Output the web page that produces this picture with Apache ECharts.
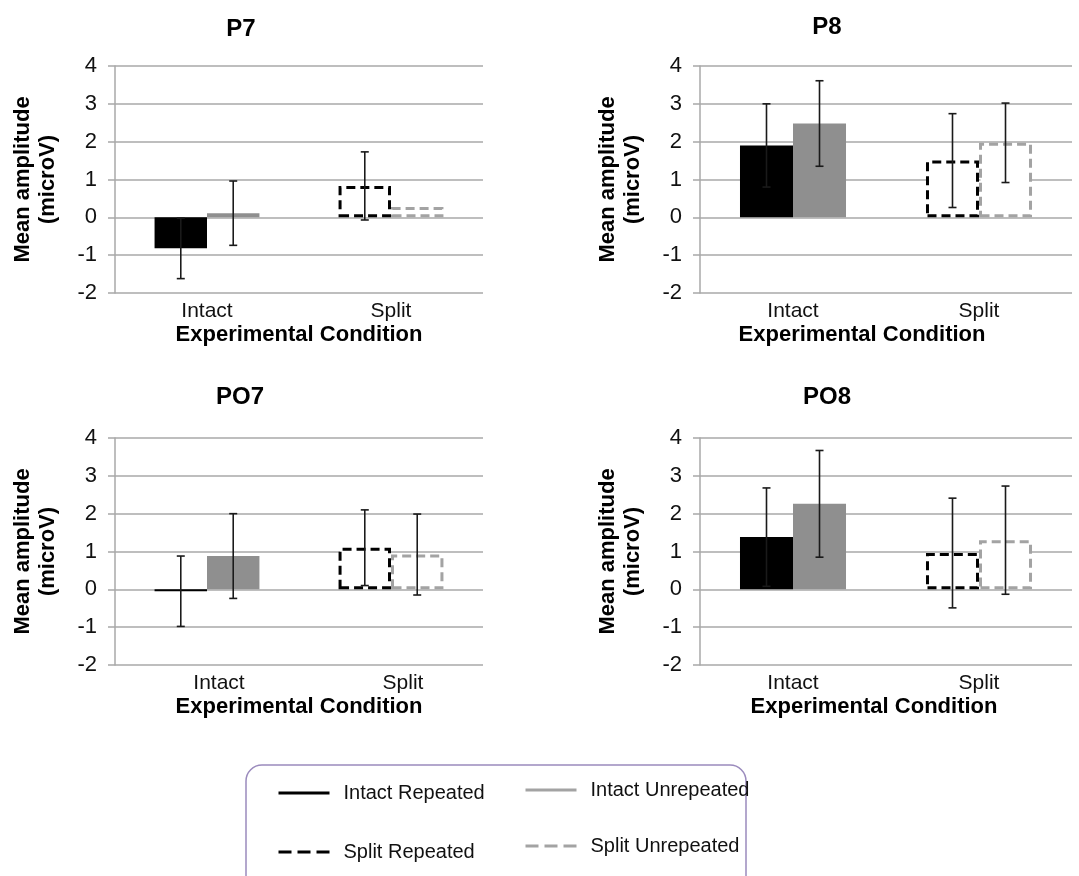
<!DOCTYPE html>
<html>
<head>
<meta charset="utf-8">
<script src="https://cdn.jsdelivr.net/npm/echarts@6/dist/echarts.min.js"></script>
<style>
  html, body { margin: 0; padding: 0; background: #fff; }
  #chart { width: 1079px; height: 876px; }
</style>
</head>
<body>
<div id="chart"></div>
<script>

// ---- data ----
var categories = ['Intact', 'Split'];
var panelNames = ['P7', 'P8', 'PO7', 'PO8'];
var yTicks = [-2, -1, 0, 1, 2, 3, 4];

var p7Repeated = [-0.82, 0.83];
var p7RepeatedErr = [0.8, 0.9];
var p7Unrepeated = [0.11, 0.27];
var p7UnrepeatedErr = [0.85, null];

var p8Repeated = [1.9, 1.5];
var p8RepeatedErr = [1.1, 1.24];
var p8Unrepeated = [2.48, 1.97];
var p8UnrepeatedErr = [1.13, 1.05];

var po7Repeated = [-0.05, 1.1];
var po7RepeatedErr = [0.93, 1.0];
var po7Unrepeated = [0.88, 0.92];
var po7UnrepeatedErr = [1.12, 1.07];

var po8Repeated = [1.38, 0.96];
var po8RepeatedErr = [1.3, 1.45];
var po8Unrepeated = [2.26, 1.3];
var po8UnrepeatedErr = [1.41, 1.43];

var legendNames = ['Intact Repeated', 'Intact Unrepeated', 'Split Repeated', 'Split Unrepeated'];

var repeatedList = [p7Repeated, p8Repeated, po7Repeated, po8Repeated];
var repeatedErrList = [p7RepeatedErr, p8RepeatedErr, po7RepeatedErr, po8RepeatedErr];
var unrepeatedList = [p7Unrepeated, p8Unrepeated, po7Unrepeated, po8Unrepeated];
var unrepeatedErrList = [p7UnrepeatedErr, p8UnrepeatedErr, po7UnrepeatedErr, po8UnrepeatedErr];

// ---- layout ----
var FONT = 'Liberation Sans, Arial, sans-serif';
var CAT_GAP = 0.43;
var gridBoxes = [
    { left: 115, top: 66, width: 368, height: 227 },
    { left: 700, top: 66, width: 372, height: 227 },
    { left: 115, top: 438, width: 368, height: 227 },
    { left: 700, top: 438, width: 372, height: 227 }
];
var titlePos = [[236, 12], [822, 10], [235, 380], [822, 380]];
var xNamePad = [[0, 0, 0, 0], [0, 48, 0, 0], [0, 0, 0, 0], [0, 24, 0, 0]];
var xLabelPad = [[0, 0, 0, 0], [0, 0, 0, 0], [0, 0, 0, 24], [0, 0, 0, 0]];

var black = '#000000';
var grey = '#8f8f8f';
var greyDash = '#a3a3a3';
var gridColor = '#a8a8a8';

function barData(values, solidColor, dashColor) {
    return values.map(function (v, i) {
        if (i === 0) {
            return { value: v, itemStyle: { color: solidColor } };
        }
        return {
            value: v,
            itemStyle: { color: '#ffffff', borderColor: dashColor, borderWidth: 3, borderType: [9, 5] }
        };
    });
}

function errData(rep, repErr, unrep, unrepErr) {
    var out = [];
    for (var i = 0; i < categories.length; i++) {
        if (repErr[i] != null) out.push([i, rep[i], repErr[i], -1]);
        if (unrepErr[i] != null) out.push([i, unrep[i], unrepErr[i], 1]);
    }
    return out;
}

function renderErr(params, api) {
    var cat = api.value(0), mean = api.value(1), err = api.value(2), side = api.value(3);
    var band = api.size([1, 0])[0];
    var barW = band * (1 - CAT_GAP) / 2;
    var c = api.coord([cat, mean]);
    var x = c[0] + side * barW / 2;
    var yHi = api.coord([cat, mean + err])[1];
    var yLo = api.coord([cat, mean - err])[1];
    var cap = 4;
    var st = { stroke: '#1a1a1a', lineWidth: 1.6 };
    return {
        type: 'group',
        children: [
            { type: 'line', shape: { x1: x, y1: yHi, x2: x, y2: yLo }, style: st },
            { type: 'line', shape: { x1: x - cap, y1: yHi, x2: x + cap, y2: yHi }, style: st },
            { type: 'line', shape: { x1: x - cap, y1: yLo, x2: x + cap, y2: yLo }, style: st }
        ]
    };
}

var grids = [], xAxes = [], yAxes = [], titles = [], series = [];

for (var p = 0; p < panelNames.length; p++) {
    grids.push(gridBoxes[p]);

    titles.push({
        text: panelNames[p],
        left: titlePos[p][0],
        top: titlePos[p][1],
        textAlign: 'center',
        textStyle: { fontFamily: FONT, fontSize: 24, fontWeight: 'bold', color: '#000' }
    });

    xAxes.push({
        type: 'category',
        gridIndex: p,
        data: categories,
        axisLine: { show: false },
        axisTick: { show: false },
        axisLabel: { fontFamily: FONT, fontSize: 21, color: '#111', margin: 8, padding: xLabelPad[p] },
        name: 'Experimental Condition',
        nameLocation: 'middle',
        nameGap: 31,
        nameTextStyle: { fontFamily: FONT, fontSize: 22, fontWeight: 'bold', color: '#000', padding: xNamePad[p] }
    });

    yAxes.push({
        type: 'value',
        gridIndex: p,
        min: yTicks[0],
        max: yTicks[yTicks.length - 1],
        interval: 1,
        axisLine: { show: true, lineStyle: { color: gridColor, width: 1.5 } },
        axisTick: { show: true, length: 7, lineStyle: { color: gridColor, width: 1.5 } },
        splitLine: { show: true, lineStyle: { color: gridColor, width: 1.5 } },
        axisLabel: { fontFamily: FONT, fontSize: 22, color: '#111', margin: 18 },
        name: 'Mean amplitude\n(microV)',
        nameLocation: 'middle',
        nameRotate: 90,
        nameGap: 55,
        nameTextStyle: { fontFamily: FONT, fontSize: 22, fontWeight: 'bold', color: '#000', lineHeight: 25 }
    });

    series.push({
        type: 'bar',
        name: 'rep' + p,
        xAxisIndex: p,
        yAxisIndex: p,
        barGap: '0%',
        barCategoryGap: (CAT_GAP * 100) + '%',
        data: barData(repeatedList[p], black, black),
        silent: true
    });
    series.push({
        type: 'bar',
        name: 'unrep' + p,
        xAxisIndex: p,
        yAxisIndex: p,
        barGap: '0%',
        barCategoryGap: (CAT_GAP * 100) + '%',
        data: barData(unrepeatedList[p], grey, greyDash),
        silent: true
    });
    series.push({
        type: 'custom',
        name: 'err' + p,
        xAxisIndex: p,
        yAxisIndex: p,
        z: 5,
        renderItem: renderErr,
        data: errData(repeatedList[p], repeatedErrList[p], unrepeatedList[p], unrepeatedErrList[p]),
        silent: true
    });
}

// empty line series, only so the legend shows line samples
var legendStyles = [
    { color: black, type: 'solid' },
    { color: greyDash, type: 'solid' },
    { color: black, type: [13, 6] },
    { color: greyDash, type: [13, 6] }
];
legendNames.forEach(function (nm, i) {
    series.push({
        type: 'line',
        name: nm,
        xAxisIndex: 0,
        yAxisIndex: 0,
        data: [],
        symbol: 'none',
        itemStyle: { color: legendStyles[i].color },
        lineStyle: { color: legendStyles[i].color, width: 3, type: legendStyles[i].type }
    });
});

var legendText = { fontFamily: FONT, fontSize: 20, color: '#111', lineHeight: 20, padding: [0, 0, 0, 9] };
var legendItem = { color: 'rgba(0,0,0,0)', borderWidth: 0 };
var legendLine = { width: 3 };

var option = {
    backgroundColor: '#ffffff',
    animation: false,
    title: titles,
    grid: grids,
    xAxis: xAxes,
    yAxis: yAxes,
    legend: [
        {
            data: [legendNames[0], legendNames[2]],
            orient: 'vertical',
            left: 272,
            top: 778,
            itemWidth: 51,
            itemHeight: 20,
            itemGap: 39,
            selectedMode: false,
            itemStyle: legendItem,
            lineStyle: legendLine,
            textStyle: legendText
        },
        {
            data: [legendNames[1], legendNames[3]],
            orient: 'vertical',
            left: 519,
            top: 775,
            itemWidth: 51,
            itemHeight: 20,
            itemGap: 36,
            selectedMode: false,
            itemStyle: legendItem,
            lineStyle: legendLine,
            textStyle: legendText
        }
    ],
    graphic: [
        {
            type: 'rect',
            shape: { x: 246, y: 765, width: 500, height: 130, r: 16 },
            style: { fill: 'none', stroke: '#9b8bbd', lineWidth: 1.5 },
            silent: true
        }
    ],
    series: series
};

var chart = echarts.init(document.getElementById('chart'));
chart.setOption(option);

</script>
</body>
</html>
